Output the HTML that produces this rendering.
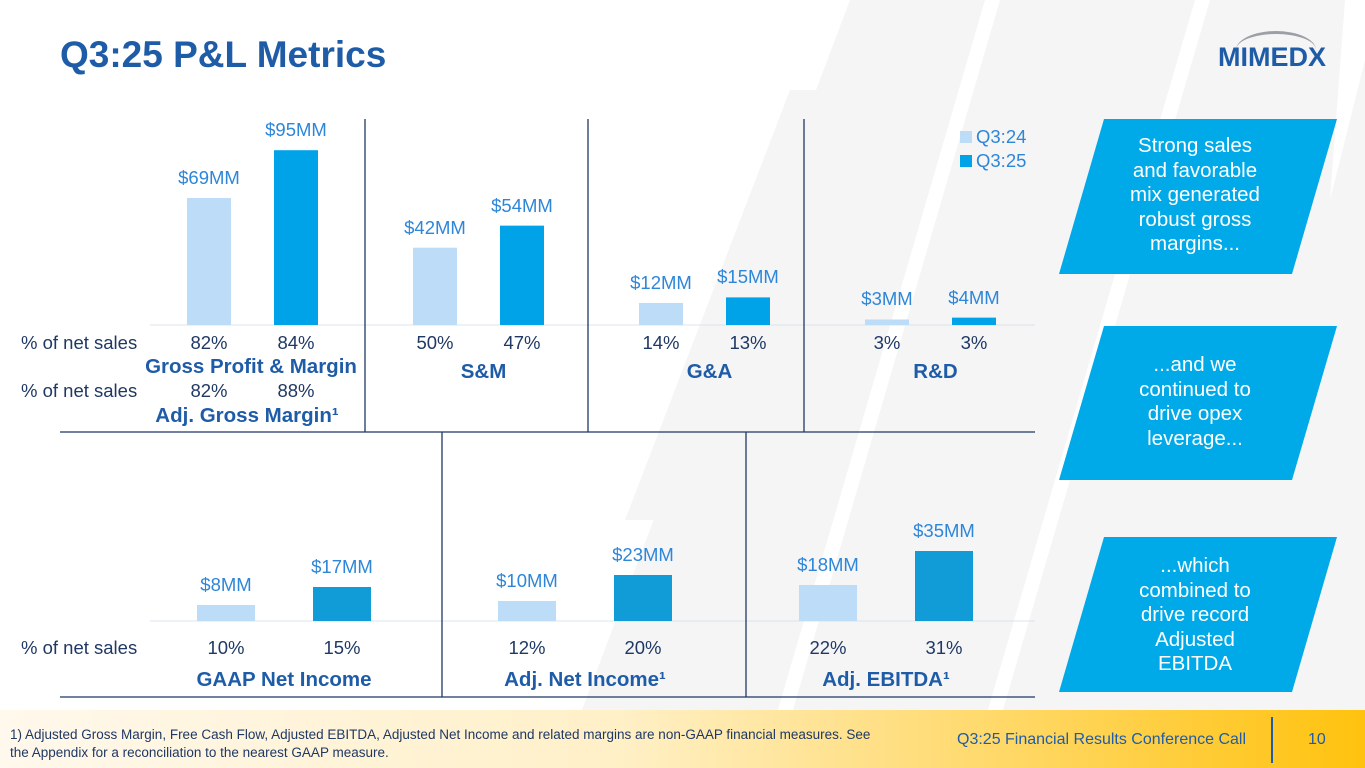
<!DOCTYPE html>
<html><head><meta charset="utf-8"><style>
body{margin:0;width:1365px;height:768px;overflow:hidden;background:#fff;font-family:"Liberation Sans",sans-serif;position:relative}
.abs{position:absolute}
.t{position:absolute;white-space:nowrap;transform:translateX(-50%);font-size:18.5px}
.val{color:#2E86D8}
.pct{color:#1F3864}
.cat{color:#1F5CA8;font-weight:bold;font-size:20.5px}
.lbl{color:#1F3864;font-size:18.5px;position:absolute}
.call{position:absolute;color:#fff;font-size:20.5px;text-align:center;line-height:23px}
</style></head><body>
<svg class="abs" style="left:0;top:0" width="1365" height="768">
<polygon points="850,0 1365,0 1365,768 560,768" fill="#F5F5F6"/>
<polygon points="790,90 845,90 680,520 625,520" fill="#F5F5F6"/>
<polygon points="985,0 1000,0 790,720 775,720" fill="#fff"/>
<polygon points="1195,0 1210,0 1000,720 985,720" fill="#fff"/>
<polygon points="1345,0 1365,0 1365,60 1330,200" fill="#fff"/>
<rect x="0" y="710" width="1365" height="58" fill="url(#fg)"/>
<defs><linearGradient id="fg" x1="0" x2="1"><stop offset="0" stop-color="#FFF8EC"/><stop offset="0.45" stop-color="#FFF0C8"/><stop offset="1" stop-color="#FFC20E"/></linearGradient></defs>
</svg>
<div class="abs" style="left:60px;top:34px;font-size:37px;font-weight:bold;color:#1F5CA8">Q3:25 P&amp;L Metrics</div>
<div class="abs" style="left:1218px;top:42px;font-size:27px;font-weight:bold;color:#1F5CA8">MIMEDX
<div style="position:absolute;left:18px;top:-11px;width:80px;height:16px;border-top:3px solid #9aa0a6;border-radius:50%/100% 100% 0 0"></div></div>

<svg id="chart" class="abs" style="left:0;top:0" width="1365" height="768"></svg>

<div class="abs" style="left:960px;top:125px;font-size:18.5px;color:#2E86D8;line-height:24px">
<div><span style="display:inline-block;width:12px;height:12px;background:#BDDCF8;margin-right:4px"></span>Q3:24</div>
<div><span style="display:inline-block;width:12px;height:12px;background:#00A3E8;margin-right:4px"></span>Q3:25</div>
</div>

<div class="lbl" style="left:21px;top:332px">% of net sales</div>
<div class="lbl" style="left:21px;top:380px">% of net sales</div>
<div class="lbl" style="left:21px;top:637px">% of net sales</div>

<svg class="abs" style="left:1055px;top:115px" width="290" height="585">
<polygon points="49,4 282,4 237,159 4,159" fill="#00A9E8"/>
<polygon points="49,211 282,211 237,365 4,365" fill="#00A9E8"/>
<polygon points="49,422 282,422 237,577 4,577" fill="#00A9E8"/>
</svg>
<div class="call" style="left:1100px;top:134px;width:190px;line-height:24.5px">Strong sales<br>and favorable<br>mix generated<br>robust gross<br>margins...</div>
<div class="call" style="left:1100px;top:353px;width:190px;line-height:24.5px">...and we<br>continued to<br>drive opex<br>leverage...</div>
<div class="call" style="left:1100px;top:554px;width:190px;line-height:24.5px">...which<br>combined to<br>drive record<br>Adjusted<br>EBITDA</div>

<div class="abs" style="left:10px;top:726px;font-size:13.5px;color:#1F3864;line-height:18px">1) Adjusted Gross Margin, Free Cash Flow, Adjusted EBITDA, Adjusted Net Income and related margins are non-GAAP financial measures. See<br>the Appendix for a reconciliation to the nearest GAAP measure.</div>
<div class="abs" style="left:957px;top:731px;font-size:16px;color:#1F5CA8">Q3:25 Financial Results Conference Call</div>
<div class="abs" style="left:1271px;top:717px;width:2px;height:46px;background:#1F5CA8"></div>
<div class="abs" style="left:1308px;top:731px;font-size:16px;color:#1F5CA8">10</div>

<script>
const topCats=["Gross Profit & Margin","S&M","G&A","R&D"];
const topPrior=[69,42,12,3];
const topCurr=[95,54,15,4];
const topPctPrior=["82%","50%","14%","3%"];
const topPctCurr=["84%","47%","13%","3%"];
const adjGMPrior="82%", adjGMCurr="88%";
const botCats=["GAAP Net Income","Adj. Net Income¹","Adj. EBITDA¹"];
const botPrior=[8,10,18];
const botCurr=[17,23,35];
const botPctPrior=["10%","12%","22%"];
const botPctCurr=["15%","20%","31%"];

const svg=document.getElementById('chart');
const NS='http://www.w3.org/2000/svg';
function el(tag,attrs){const e=document.createElementNS(NS,tag);for(const k in attrs)e.setAttribute(k,attrs[k]);svg.appendChild(e);return e;}
function txt(x,y,s,cls,name){const d=document.createElement('div');d.className='t '+cls;d.style.left=x+'px';d.style.top=y+'px';d.textContent=s;


document.body.appendChild(d);}
const topBase=325, topScale=1.84;
const yTop=v=>topBase-v*topScale;
const topX=i=>209+i*226;
const botBase=621, botScale=2.0;
const yBot=v=>botBase-v*botScale;
const botX=i=>226+i*301;
let l=el('line',{x1:150,x2:1035,y1:topBase,y2:topBase,stroke:'#DCE3EC','stroke-width':1});


l=el('line',{x1:150,x2:1035,y1:botBase,y2:botBase,stroke:'#DCE3EC','stroke-width':1});


topCats.forEach((c,i)=>{
  const x0=topX(i), x1=x0+87;
  let r=el('rect',{x:x0-22,y:yTop(topPrior[i]),width:44,height:topPrior[i]*topScale,fill:'#BDDCF8'});
  
  
  r=el('rect',{x:x1-22,y:yTop(topCurr[i]),width:44,height:topCurr[i]*topScale,fill:'#00A3E8'});
  
  
  txt(x0,yTop(topPrior[i])-31,'$'+topPrior[i]+'MM','val','value-q324-'+i);
  txt(x1,yTop(topCurr[i])-31,'$'+topCurr[i]+'MM','val','value-q325-'+i);
  txt(x0,332,topPctPrior[i],'pct','pct-q324-'+i);
  txt(x1,332,topPctCurr[i],'pct','pct-q325-'+i);
  txt(i==0?251:(x0+x1)/2+5,i==0?355:360,c,'cat','category-'+i);
});
txt(topX(0),380,adjGMPrior,'pct','adj-gm-q324');
txt(topX(0)+87,380,adjGMCurr,'pct','adj-gm-q325');
txt(247,404,'Adj. Gross Margin¹','cat','category-adj-gross-margin');
botCats.forEach((c,i)=>{
  const x0=botX(i), x1=x0+116;
  let r=el('rect',{x:x0-29,y:yBot(botPrior[i]),width:58,height:botPrior[i]*botScale,fill:'#BDDCF8'});
  
  
  r=el('rect',{x:x1-29,y:yBot(botCurr[i]),width:58,height:botCurr[i]*botScale,fill:'#119CD8'});
  
  
  txt(x0,yBot(botPrior[i])-31,'$'+botPrior[i]+'MM','val','value-bottom-q324-'+i);
  txt(x1,yBot(botCurr[i])-31,'$'+botCurr[i]+'MM','val','value-bottom-q325-'+i);
  txt(x0,637,botPctPrior[i],'pct','pct-bottom-q324-'+i);
  txt(x1,637,botPctCurr[i],'pct','pct-bottom-q325-'+i);
  txt((x0+x1)/2,668,c,'cat','category-bottom-'+i);
});
[[365,119,432],[588,119,432],[804,119,432],[442,432,697],[746,432,697]].forEach((d,i)=>{
  const ln=el('line',{x1:d[0],x2:d[0],y1:d[1],y2:d[2],stroke:'#1F3864','stroke-width':1.3});
  
  
});
[[60,432],[60,697]].forEach((d,i)=>{
  const ln=el('line',{x1:d[0],x2:1035,y1:d[1],y2:d[1],stroke:'#1F3864','stroke-width':1.3});
  
  
});
</script>
</body></html>
